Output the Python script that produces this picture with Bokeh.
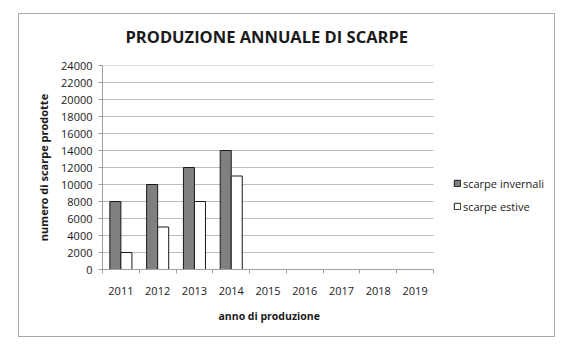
from bokeh.plotting import figure
from bokeh.models import (Range1d, FixedTicker, Legend, LegendItem,
                          ColumnDataSource, Title)
from bokeh.transform import dodge
from bokeh.embed import file_html
from bokeh.resources import INLINE

# ---- data ----
years = ["2011", "2012", "2013", "2014", "2015", "2016", "2017", "2018", "2019"]
scarpe_invernali = [8000, 10000, 12000, 14000, None, None, None, None, None]
scarpe_estive = [2000, 5000, 8000, 11000, None, None, None, None, None]
y_ticks = list(range(0, 24001, 2000))

title_text = "PRODUZIONE ANNUALE DI SCARPE"
x_label = "anno di produzione"
y_label = "numero di scarpe prodotte"
legend_labels = ["scarpe invernali", "scarpe estive"]

FONT = "Open Sans"
TXT = "#1a1a1a"

n = len(years)
src = ColumnDataSource(dict(
    x=[i + 0.5 for i in range(n)],
    inv=[v if v is not None else float("nan") for v in scarpe_invernali],
    est=[v if v is not None else float("nan") for v in scarpe_estive],
))

# the category area is 331 px wide; the frame continues to the right edge so
# that the legend can sit inside it
W, H = 555, 342
LEFT = 93
x_end = n * (W - LEFT) / 331.0

p = figure(width=W, height=H, output_backend="svg", toolbar_location=None,
           x_range=Range1d(0, x_end), y_range=Range1d(0, 24000),
           min_border_left=LEFT, min_border_right=0, min_border_top=61,
           min_border_bottom=77, outline_line_color=None,
           background_fill_alpha=0, border_fill_alpha=0)
p.margin = (4, 0, 0, 9)
p.styles = {"outline": "1.5px solid #a8a8a8", "outline-offset": "-10px"}

# horizontal grid lines limited to the category area
p.segment(x0=0, x1=n, y0=y_ticks, y1=y_ticks, line_color="#bdbdbd",
          line_width=1, level="underlay")

r1 = p.vbar(x=dodge("x", -0.15, range=p.x_range), top="inv", width=0.3,
            source=src, fill_color="#808080", line_color="#1a1a1a", line_width=1)
r2 = p.vbar(x=dodge("x", 0.15, range=p.x_range), top="est", width=0.3,
            source=src, fill_color="white", line_color="#1a1a1a", line_width=1)

p.title.text = title_text
p.title.text_font = FONT
p.title.text_font_style = "bold"
p.title.text_font_size = "16.5px"
p.title.align = "left"
p.title.offset = 23
p.title.text_color = TXT
p.title.standoff = 36

# x axis: labels at centres, ticks at boundaries
xa = p.xaxis[0]
xa.bounds = (0, n)
xa.ticker = FixedTicker(ticks=[i + 0.5 for i in range(n)],
                        minor_ticks=list(range(n + 1)))
xa.major_label_overrides = {i + 0.5: y for i, y in enumerate(years)}
xa.major_tick_line_color = None
xa.minor_tick_line_color = "#a0a0a0"
xa.minor_tick_in = 0
xa.minor_tick_out = 4
xa.axis_line_color = "#a0a0a0"
xa.major_label_standoff = 11
xa.major_label_text_font = FONT
xa.major_label_text_font_size = "11px"
xa.major_label_text_color = TXT

p.add_layout(Title(text=x_label, align="left", offset=116, standoff=18,
                   text_font=FONT, text_font_style="bold",
                   text_font_size="10.5px", text_color=TXT), "below")

ya = p.yaxis[0]
ya.ticker = FixedTicker(ticks=y_ticks)
ya.minor_tick_line_color = None
ya.major_tick_line_color = "#a0a0a0"
ya.major_tick_in = 0
ya.major_tick_out = 4
ya.axis_line_color = "#a0a0a0"
ya.major_label_standoff = 6
ya.major_label_text_font = FONT
ya.major_label_text_font_size = "11px"
ya.major_label_text_color = TXT
ya.axis_label = y_label
ya.axis_label_text_font = FONT
ya.axis_label_text_font_style = "bold"
ya.axis_label_text_font_size = "11px"
ya.axis_label_text_color = TXT
ya.axis_label_standoff = 7

p.xgrid.grid_line_color = None
p.ygrid.grid_line_color = None

legend = Legend(items=[LegendItem(label=legend_labels[0], renderers=[r1]),
                       LegendItem(label=legend_labels[1], renderers=[r2])],
                location=(351, 55), padding=0, margin=0, spacing=7,
                glyph_width=8, glyph_height=8, label_height=16,
                label_standoff=2, border_line_color=None,
                background_fill_alpha=0, label_text_font=FONT,
                label_text_font_size="11px", label_text_color=TXT)
p.add_layout(legend)

open("out.html", "w").write(file_html(p, INLINE))
